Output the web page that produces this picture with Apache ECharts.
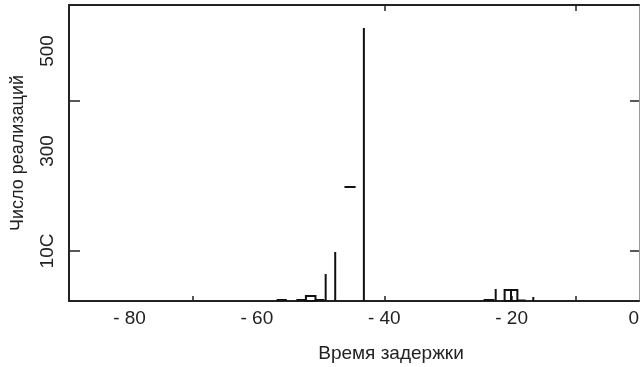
<!DOCTYPE html>
<html>
<head>
<meta charset="utf-8">
<script src="https://cdn.jsdelivr.net/npm/echarts@6/dist/echarts.min.js"></script>
<style>html,body{margin:0;padding:0;background:#fff}#c{width:642px;height:367px}</style>
</head>
<body>
<div id="c"></div>
<script>
// X tick labels and tick marks
const xLabelValues = [-80, -60, -40, -20, 0];
const xTickBottom = [-70, -40, -20, -10];
const xTickTop = [-40, -10];
// Y tick labels and tick marks
const yLabelValues = [100, 300, 500];
const yLabelTexts = ['10C', '300', '500'];
const yTickValues = [100, 400];

// Spikes (thin vertical bars): position and count
const spikeX = [-49.2, -47.7, -43.2, -22.5, -20.1, -16.6];
const spikeY = [54, 98, 546, 24, 22, 8];

// Low filled blocks: bin start, bin end, count
const blockStart = [-56.9, -53.8, -50.8, -24.4, -19.1];
const blockEnd   = [-55.3, -52.3, -49.4, -22.7, -17.8];
const blockVal   = [4, 4, 4, 4, 3];

// Outlined bins: start, end, count
const boxStart = [-52.3, -21.1];
const boxEnd   = [-50.8, -19.1];
const boxVal   = [10, 22];

// Isolated bin top (cap): start, end, count
const capStart = [-46.25];
const capEnd   = [-44.5];
const capVal   = [228];

const font = '"Liberation Sans", Arial, sans-serif';
const chart = echarts.init(document.getElementById('c'));

chart.setOption({
  animation: false,
  backgroundColor: '#ffffff',
  title: {
    text: 'Время задержки',
    left: 386, top: 339,
    textAlign: 'center',
    textStyle: { fontFamily: font, fontSize: 19, fontWeight: 'normal', color: '#222' }
  },
  grid: { left: 69, right: 1, top: 5, bottom: 66, containLabel: false },
  xAxis: [{
    type: 'value', position: 'bottom', min: -89.5, max: 0,
    splitLine: { show: false },
    axisLine: { onZero: false, lineStyle: { color: '#222', width: 2 } },
    axisTick: { inside: true, length: 5, customValues: xTickBottom, lineStyle: { color: '#222', width: 1.5 } },
    axisLabel: {
      customValues: xLabelValues, margin: 8, alignMaxLabel: 'right',
      fontFamily: font, fontSize: 19, color: '#222',
      formatter: v => v < 0 ? '- ' + Math.abs(v) : String(v)
    }
  }, {
    type: 'value', position: 'top', min: -89.5, max: 0,
    splitLine: { show: false },
    axisLine: { onZero: false, lineStyle: { color: '#222', width: 2 } },
    axisTick: { inside: true, length: 6, customValues: xTickTop, lineStyle: { color: '#222', width: 1.5 } },
    axisLabel: { show: false }
  }],
  yAxis: [{
    type: 'value', position: 'left', min: 0, max: 592,
    name: 'Число реализаций', nameLocation: 'middle', nameGap: 42, nameRotate: 90,
    nameTextStyle: { fontFamily: font, fontSize: 18, color: '#222' },
    splitLine: { show: false },
    axisLine: { onZero: false, lineStyle: { color: '#222', width: 2 } },
    axisTick: { inside: true, length: 11, customValues: yTickValues, lineStyle: { color: '#222', width: 1.5 } },
    axisLabel: {
      customValues: yLabelValues, rotate: 90, margin: 12,
      fontFamily: font, fontSize: 19, color: '#222',
      formatter: v => yLabelTexts[yLabelValues.indexOf(v)]
    }
  }, {
    type: 'value', position: 'right', min: 0, max: 592,
    splitLine: { show: false },
    axisLine: { onZero: false, lineStyle: { color: '#999', width: 1 } },
    axisTick: { inside: true, length: 9, customValues: yTickValues, lineStyle: { color: '#222', width: 1.5 } },
    axisLabel: { show: false }
  }],
  series: [{
    type: 'custom', xAxisIndex: 0, yAxisIndex: 0,
    data: spikeX.map((x, i) => [x, spikeY[i]]),
    renderItem: (params, api) => {
      const p0 = api.coord([api.value(0), 0]);
      const p1 = api.coord([api.value(0), api.value(1)]);
      return { type: 'line', shape: { x1: p0[0], y1: p0[1], x2: p1[0], y2: p1[1] },
        style: { stroke: '#111', lineWidth: 2 } };
    }
  }, {
    type: 'custom', xAxisIndex: 0, yAxisIndex: 0,
    data: blockStart.map((s, i) => [s, blockEnd[i], blockVal[i]]),
    renderItem: (params, api) => {
      const a = api.coord([api.value(0), api.value(2)]);
      const b = api.coord([api.value(1), 0]);
      return { type: 'rect', shape: { x: a[0], y: a[1], width: b[0] - a[0], height: b[1] - a[1] },
        style: { fill: '#111' } };
    }
  }, {
    type: 'custom', xAxisIndex: 0, yAxisIndex: 0,
    data: boxStart.map((s, i) => [s, boxEnd[i], boxVal[i]]),
    renderItem: (params, api) => {
      const a = api.coord([api.value(0), api.value(2)]);
      const b = api.coord([api.value(1), 0]);
      return { type: 'rect', shape: { x: a[0], y: a[1], width: b[0] - a[0], height: b[1] - a[1] },
        style: { fill: 'none', stroke: '#111', lineWidth: 2 } };
    }
  }, {
    type: 'custom', xAxisIndex: 0, yAxisIndex: 0,
    data: capStart.map((s, i) => [s, capEnd[i], capVal[i]]),
    renderItem: (params, api) => {
      const a = api.coord([api.value(0), api.value(2)]);
      const b = api.coord([api.value(1), api.value(2)]);
      return { type: 'line', shape: { x1: a[0], y1: a[1], x2: b[0], y2: b[1] },
        style: { stroke: '#111', lineWidth: 2 } };
    }
  }]
});
</script>
</body>
</html>
